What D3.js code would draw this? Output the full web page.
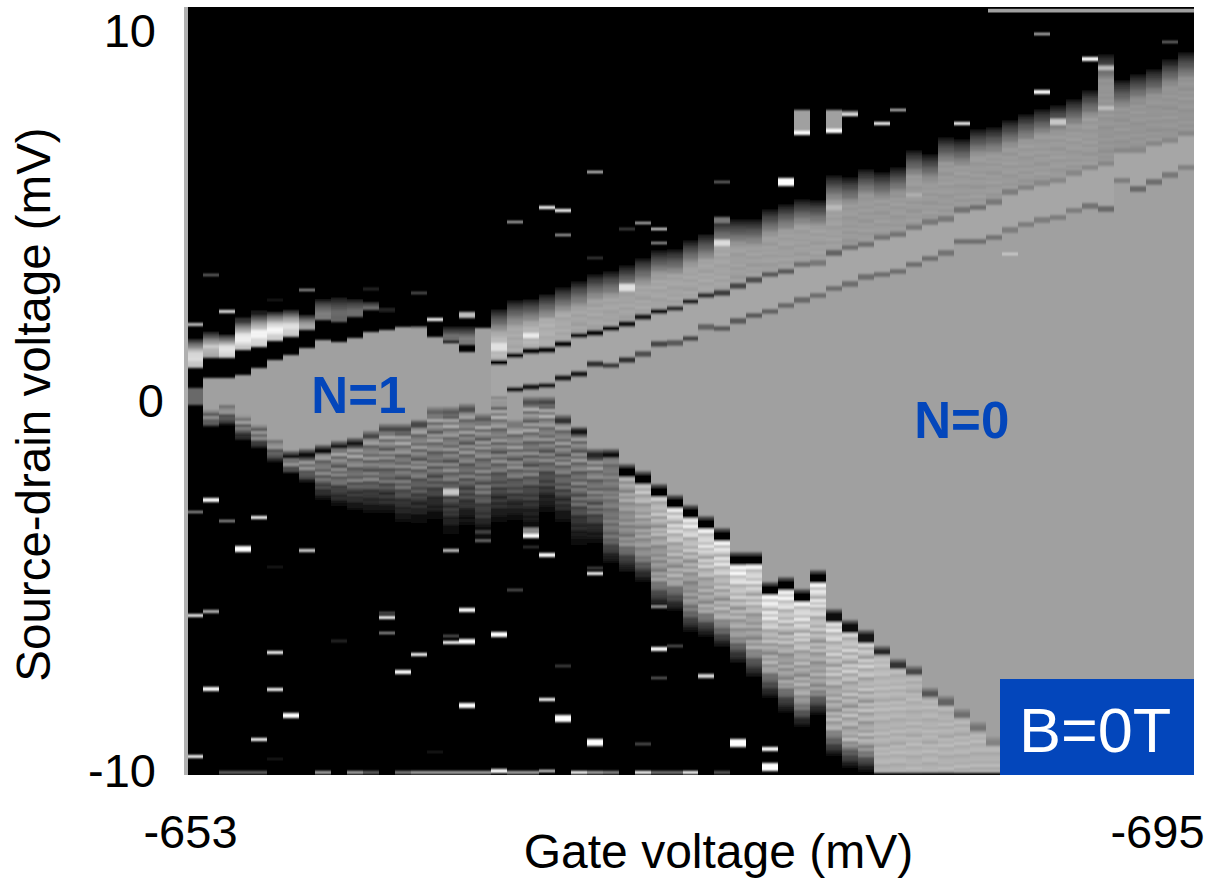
<!DOCTYPE html>
<html>
<head>
<meta charset="utf-8">
<script src="https://cdn.jsdelivr.net/npm/d3@7"></script>
<style>
html,body{margin:0;padding:0;background:#fff;overflow:hidden}
text{font-family:"Liberation Sans",Arial,sans-serif;fill:#000}
</style>
</head>
<body>
<svg id="chart" width="1209" height="881"></svg>
<script>
// ---------- values (one entry per gate-voltage column, volts in mV) ----------
const xTickLabels = [-653, -695];
const yTickLabels = [10, 0, -10];
const xTitle = "Gate voltage (mV)";
const yTitle = "Source-drain voltage (mV)";
const regionLabels = [["N=1", -0.32, 7.78], ["N=0", -1.0, 45.5]];
const fieldLabel = "B=0T";
const columnCount = 63;
const solidGray = 160;

// upper conductance band: start voltage, end voltage, peak gray level
const bandTop = [1.73,1.92,1.84,2.24,2.41,2.46,2.51,2.38,2.81,2.86,2.81,2.73,2.59,null,2.08,null,2.05,2.05,null,2.54,2.78,2.81,2.95,3.14,3.30,3.49,3.57,3.73,3.92,4.14,4.16,4.41,4.57,4.97,4.97,4.97,5.24,5.38,5.51,5.49,6.16,6.11,6.32,6.24,6.38,6.84,6.73,7.19,7.14,7.41,7.46,7.65,7.81,7.95,8.05,8.22,8.46,9.43,8.73,8.89,9.03,9.30,9.49];
const bandEnd = [0.92,1.19,1.16,1.38,1.46,1.65,1.73,1.92,2.19,2.14,2.27,2.46,2.41,null,1.92,null,1.62,1.51,null,1.03,1.22,1.35,1.38,1.54,1.76,1.84,1.97,2.08,2.27,2.41,2.51,2.68,2.86,2.92,3.11,3.27,3.41,3.51,3.68,3.73,4.00,4.14,4.24,4.43,4.49,4.68,4.84,4.92,5.16,5.24,5.38,5.65,5.76,5.89,5.97,6.16,6.30,6.43,6.78,6.78,6.97,7.05,7.24];
const bandPeak = [235,200,245,250,255,255,235,165,125,105,110,110,40,0,100,0,110,125,0,185,170,180,175,170,165,165,165,165,165,165,165,165,165,165,160,160,160,160,160,160,160,155,155,155,155,155,155,155,155,155,155,155,155,155,155,155,155,150,150,150,150,150,150];
// dark line closing the upper band
const lineAGray = [null,null,null,null,null,null,null,null,null,null,null,null,null,null,null,null,null,null,null,5,10,10,10,15,20,15,15,25,30,25,50,40,50,60,70,80,90,90,110,120,100,110,110,115,115,120,120,120,115,110,120,125,130,135,135,135,135,135,135,135,135,135,135];
// second dark line, running below the first
const lineB = [null,null,null,null,null,null,null,null,null,null,null,null,null,null,null,null,null,null,null,0.03,0.30,0.38,0.41,0.62,0.73,1.00,0.95,1.11,1.27,1.54,1.57,1.70,2.00,1.97,2.16,2.30,2.43,2.59,2.73,2.86,3.03,3.16,3.35,3.41,3.49,3.68,3.86,4.00,4.30,4.30,4.43,4.62,4.76,4.89,4.97,5.14,5.27,5.19,5.97,5.73,5.92,6.11,6.30];
const lineBGray = [null,null,null,null,null,null,null,null,null,null,null,null,null,null,null,null,null,null,null,80,25,30,30,30,30,50,60,50,80,70,90,70,100,90,90,90,100,105,105,110,110,110,110,110,110,110,110,115,110,110,115,125,125,125,125,125,115,105,125,105,110,120,130];
// top and bottom of the flat-gray blockade region
const solidTop = [null,0.62,0.62,0.70,0.89,1.11,1.24,1.43,1.65,1.59,1.70,1.86,1.92,2.00,1.97,1.73,1.57,1.32,1.97,1.03,1.22,1.35,1.38,1.54,1.76,1.84,1.97,2.08,2.27,2.41,2.51,2.68,2.86,2.92,3.11,3.27,3.41,3.51,3.68,3.73,4.00,4.14,4.24,4.43,4.49,4.68,4.84,4.92,5.16,5.24,5.38,5.65,5.76,5.89,5.97,6.16,6.30,6.43,6.78,6.78,6.97,7.05,7.24];
const solidBottom = [null,-0.24,-0.11,-0.38,-0.65,-1.05,-1.51,-1.46,-1.35,-1.24,-1.14,-0.95,-0.78,-0.78,-0.65,-0.32,-0.32,-0.24,-0.51,-0.08,-0.65,-0.03,-0.05,-0.54,-0.84,-1.46,-1.46,-1.92,-2.11,-2.46,-2.76,-3.03,-3.32,-3.65,-4.30,-4.30,-5.11,-4.97,-5.30,-4.78,-5.84,-6.14,-6.41,-6.78,-7.14,-7.32,-7.92,-8.14,-8.49,-8.84,-9.24,-9.60,-10.05,-10.05,-10.05,-10.05,-10.05,-10.05,-10.05,-10.05,-10.05,-10.05,-10.05];
const lowerLineGray = [null,null,null,null,null,null,20,15,10,30,20,70,70,70,70,100,90,80,90,150,120,80,70,50,20,40,10,5,5,0,0,0,0,0,0,0,0,0,0,0,10,10,20,40,50,70,85,100,110,115,130,140,null,null,null,null,null,null,null,null,null,null,null];
// lower conductance band: end voltage, gray at its top, gray before it fades out
const lowerEnd = [null,-0.70,-0.65,-1.05,-1.27,-1.65,-1.95,-2.22,-2.68,-2.86,-2.95,-3.03,-3.08,-3.30,-3.30,-3.22,-3.68,-3.41,-3.76,-3.35,-3.22,-3.46,-3.03,-3.30,-3.89,-3.84,-4.38,-4.62,-4.89,-5.57,-5.65,-6.24,-6.38,-6.65,-7.08,-7.46,-8.00,-8.41,-8.81,-8.49,-9.62,-9.92,-10.03,-10.05,-10.05,-10.05,-10.05,-10.05,-10.05,-10.05,-10.05,-10.05,-10.05,-10.05,-10.05,-10.05,-10.05,-10.05,-10.05,-10.05,-10.05,-10.05,-10.05];
const lowerTopGray = [0,150,150,150,150,150,150,150,145,145,145,145,145,145,145,145,145,145,145,150,150,150,150,145,135,135,125,170,190,200,225,230,235,235,240,235,250,235,235,235,215,205,200,190,185,180,180,180,180,180,180,180,180,180,180,180,180,180,180,180,180,180,180];
const lowerMidGray = [0,110,110,110,110,110,110,110,110,110,110,110,110,110,110,110,110,110,110,110,110,110,110,110,110,110,120,140,150,150,165,150,165,170,165,160,165,160,165,165,170,175,175,180,180,180,180,180,180,180,180,180,180,180,180,180,180,180,180,180,180,180,180];
const rowStreaks = [1,.95,1.04,.93,1.02,.98,.9,1.03,.96,1.05,.94,1,1.03,.92,.98];

// isolated cells: column, voltage, voltage span, gray
const specks = [
[1,3.41,.06,120],[0,2.08,.08,200],[2,2.41,.08,230],[3,2.22,.05,60],[4,2.41,.05,40],[5,2.73,.05,30],[7,3.00,.06,170],[11,3.03,.05,50],[14,2.92,.06,100],[15,2.19,.08,255],[17,2.32,.16,190],
[20,4.84,.06,200],[22,5.24,.08,255],[23,5.14,.08,255],[23,4.49,.06,190],[25,6.19,.06,235],[25,3.86,.05,70],[27,4.65,.05,80],[28,4.81,.06,210],[29,4.65,.06,255],[29,4.27,.08,180],[33,5.92,.06,125],[33,4.89,.16,120],
[37,5.92,.24,255],[38,7.57,.6,160],[38,7.24,.1,255],[40,7.59,.54,160],[40,7.30,.09,255],[41,7.81,.08,160],[41,7.73,.08,255],[43,7.51,.08,255],[44,7.86,.06,220],[48,7.51,.08,255],[53,9.92,.06,220],[53,8.35,.11,255],[56,9.24,.11,255],[61,9.70,.06,130],[51,3.97,.06,210],
[19,1.46,.2,225],[21,1.78,.14,235],[27,3.08,.19,225],[33,4.27,.14,220],[16,-2.46,.14,200],[40,5.22,.14,185],[45,5.57,.11,175],[54,7.54,.14,200],[57,9.0,.11,190],[57,7.92,.1,190],[0,0.12,.46,105],
[21,-3.54,.2,140],[21,-3.65,.11,255],[0,-3.0,.06,170],[1,-2.68,.11,255],[2,-3.24,.06,170],[3,-4.0,.14,255],[4,-3.14,.08,255],[7,-4.03,.08,220],[5,-4.49,.05,35],[0,-5.81,.08,240],[1,-5.70,.08,190],[5,-6.81,.08,255],[1,-7.78,.11,255],[5,-7.81,.08,255],[6,-8.49,.14,255],[4,-9.14,.08,255],[0,-9.62,.08,255],[5,-9.68,.05,30],
[9,-6.49,.05,50],[12,-5.73,.05,100],[12,-5.86,.08,255],[12,-6.27,.06,170],[13,-7.32,.11,255],[14,-6.86,.08,255],[15,-9.49,.05,30],[16,-4.05,.08,200],[16,-6.35,.06,100],[16,-6.54,.08,255],[17,-5.65,.11,255],[17,-6.49,.14,255],[17,-8.22,.14,255],[18,-3.54,.05,80],[18,-3.78,.05,120],[19,-6.30,.14,255],[20,-5.11,.05,100],[21,-3.95,.05,60],[22,-4.16,.11,255],[22,-8.08,.08,255],[23,-7.16,.05,80],[23,-8.57,.19,255],[25,-4.65,.08,255],[25,-4.51,.06,80],[25,-9.24,.19,255],[28,-9.27,.05,100],[29,-5.57,.06,170],[29,-6.70,.11,255],[29,-7.49,.06,110],[30,-6.62,.05,100],[32,-7.43,.11,220],[34,-9.24,.22,255],[36,-9.41,.11,255],[36,-9.89,.22,255],
[19,-10.0,.11,255],[22,-10.0,.08,255]
];
const bottomRowCols = [2,3,4,8,10,11,13,14,15,16,17,18,20,21,24,25,26,28,29,30,31,33];
const bottomRowGray = [100,100,100,170,170,100,130,170,170,170,170,170,170,170,255,170,140,255,120,120,255,90];

// ---------- layout ----------
const plot = {left:184, right:1194, top:7, bottom:775, cellLeft:187};
const svg = d3.select("#chart");
const xCol = d3.scaleLinear().domain([0, columnCount]).range([plot.cellLeft, plot.right]);
const y = d3.scaleLinear().domain([10, -10]).range([31, 771]);
const xGate = d3.scaleLinear().domain([-653, -695]).range([190, 1157]);
const gray = g => { const v = Math.max(0, Math.min(255, Math.round(g))); return d3.rgb(v, v, v).formatHex(); };
const hyphen = d3.format("d");
const tickText = d => hyphen(d).replace("\u2212", "-");

const defs = svg.append("defs");
defs.append("clipPath").attr("id", "plotClip").append("rect")
  .attr("x", plot.left).attr("y", plot.top).attr("width", plot.right - plot.left).attr("height", plot.bottom - plot.top);
defs.append("filter").attr("id", "soft").attr("x", "-2%").attr("y", "-2%").attr("width", "104%").attr("height", "104%")
  .append("feGaussianBlur").attr("stdDeviation", "0.6 0.8");

svg.append("rect").attr("x", plot.left).attr("y", plot.top).attr("width", plot.right - plot.left).attr("height", plot.bottom - plot.top).attr("fill", "#000");

const clipG = svg.append("g").attr("clip-path", "url(#plotClip)");
const heat = clipG.append("g").attr("filter", "url(#soft)").attr("shape-rendering", "crispEdges");

// a cell spanning voltages hi..lo in column k
function cell(k, hi, lo, g) {
  if (!(hi > lo)) return;
  const x0 = Math.round(xCol(k)), x1 = Math.round(xCol(k + 1));
  const y0 = Math.round(y(hi)), y1 = Math.max(y0 + 1, Math.round(y(lo)));
  heat.append("rect").attr("x", x0).attr("width", x1 - x0).attr("y", y0).attr("height", y1 - y0).attr("fill", gray(g));
}
const rowStep = 0.08;

d3.range(columnCount).forEach(k => {
  // upper band rows
  if (bandTop[k] !== null) {
    const len = bandTop[k] - bandEnd[k];
    const rise = Math.min(0.75, 0.55 * len);
    d3.range(bandTop[k], bandEnd[k], -rowStep).forEach((v, i) => {
      const depth = bandTop[k] - v;
      const tex = rowStreaks[(i + k * 4) % rowStreaks.length];
      const lvl = bandPeak[k] * Math.pow(Math.min(1, depth / rise), 0.75) * (k < 7 && depth > rise ? 1 - 0.25 * (depth - rise) / (len - rise) : 1);
      cell(k, v, Math.max(v - rowStep, bandEnd[k]), lvl * (0.4 + 0.6 * tex));
    });
  }
  // flat region
  if (solidTop[k] !== null) cell(k, solidTop[k], solidBottom[k], solidGray);
  // between first and second line, slightly lighter
  if (lineB[k] !== null) cell(k, solidTop[k], lineB[k], 166);
  // lower band rows
  if (lowerEnd[k] !== null) {
    const len = solidBottom[k] - lowerEnd[k];
    const fade = k < 26 ? 0.45 * len : (k >= 43 ? 0 : 0.8);
    d3.range(solidBottom[k], lowerEnd[k], -rowStep).forEach((v, i) => {
      const t = len > 0 ? (solidBottom[k] - v) / len : 0;
      const d = v - lowerEnd[k];
      const f = fade > 0 ? Math.min(1, d / fade) : 1;
      const tex = rowStreaks[(i + k * 5) % rowStreaks.length];
      const base = (lowerTopGray[k] + (lowerMidGray[k] - lowerTopGray[k]) * Math.min(1, t * 1.8)) * f;
      const streak = k < 26 ? Math.pow(tex, 5) : (k < 43 ? Math.pow(tex, 2.5) : tex);
      cell(k, v, Math.max(v - rowStep, lowerEnd[k]), base * streak);
    });
  }
  // dark lines
  if (lineAGray[k] !== null) cell(k, bandEnd[k] + 0.07, bandEnd[k] - 0.07, lineAGray[k]);
  if (lineBGray[k] !== null) cell(k, lineB[k] + 0.07, lineB[k] - 0.07, lineBGray[k]);
  if (lowerLineGray[k] !== null) {
    const half = k >= 27 && k <= 42 ? 0.14 : (k > 42 || k === 25 || k === 26 ? 0.09 : 0.07);
    cell(k, solidBottom[k] + half + 0.08, solidBottom[k] + half, (lowerLineGray[k] + solidGray) / 2);
    cell(k, solidBottom[k] + half, solidBottom[k] - half, lowerLineGray[k]);
  }
});

// isolated cells
specks.forEach(([k, v, span, g]) => cell(k, v + span / 2, v - span / 2, g));
bottomRowCols.forEach((k, i) => cell(k, -10.0, -10.07, bottomRowGray[i]));

// edge strips of the original scan
clipG.append("rect").attr("x", plot.left).attr("y", plot.top).attr("width", 4).attr("height", plot.bottom - plot.top).attr("fill", "#b0b0b0");
clipG.append("rect").attr("x", 988).attr("y", y(10.6)).attr("width", plot.right - 988).attr("height", y(10.5) - y(10.6)).attr("fill", gray(solidGray));

// ---------- axes ----------
const yAxis = svg.append("g").attr("transform", "translate(156,0)")
  .call(d3.axisLeft(y).tickValues(yTickLabels).tickSize(0).tickPadding(0).tickFormat(tickText));
yAxis.select(".domain").remove();
yAxis.selectAll("text").attr("font-size", 47).attr("font-family", '"Liberation Sans",Arial,sans-serif').attr("fill", "#000")
  .attr("x", d => d === 0 ? 8 : 0).attr("dy", "0.34em");

const xAxis = svg.append("g").attr("transform", "translate(0,848)")
  .call(d3.axisBottom(xGate).tickValues(xTickLabels).tickSize(0).tickPadding(0).tickFormat(tickText));
xAxis.select(".domain").remove();
xAxis.selectAll("text").attr("font-size", 47).attr("font-family", '"Liberation Sans",Arial,sans-serif').attr("fill", "#000")
  .attr("y", 0).attr("dy", 0);

svg.append("text").attr("x", 718.5).attr("y", 868).attr("text-anchor", "middle").attr("font-size", 48).text(xTitle);
svg.append("text").attr("transform", "translate(50,404.5) rotate(-90)").attr("text-anchor", "middle").attr("font-size", 47.5).text(yTitle);

// ---------- annotations ----------
const blue = "#0346BB";
svg.selectAll("text.region").data(regionLabels).join("text").attr("class", "region")
  .attr("x", d => xCol(d[2]) ).attr("y", d => y(d[1]))
  .attr("font-size", 51).attr("font-weight", "bold").style("fill", blue).text(d => d[0]);

svg.append("rect").attr("x", 1000).attr("y", 679).attr("width", 194).attr("height", 96).attr("fill", blue);
svg.append("text").attr("x", 1019).attr("y", 752).attr("font-size", 63).style("fill", "#fff").text(fieldLabel);
</script>
</body>
</html>
